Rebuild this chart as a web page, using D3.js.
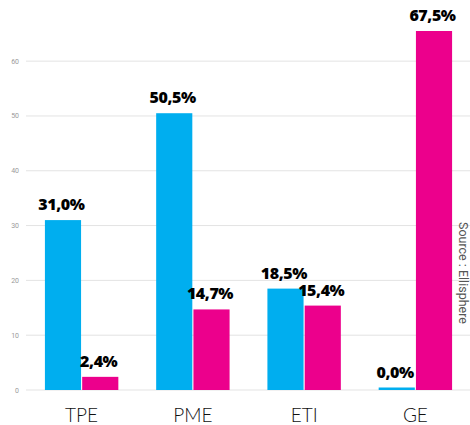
<!DOCTYPE html>
<html><head><meta charset="utf-8">
<script src="https://cdn.jsdelivr.net/npm/d3@7"></script>
<style>body{margin:0;background:#fff}</style>
</head><body><svg id="c" width="470" height="425"></svg>
<script>
const categories = ["TPE", "PME", "ETI", "GE"];
const seriesNames = ["s1", "s2"];
const seriesA = [31.0, 50.5, 18.5, 0.0];
const seriesB = [2.4, 14.7, 15.4, 67.5];
const labelsA = ["31,0%", "50,5%", "18,5%", "0,0%"];
const labelsB = ["2,4%", "14,7%", "15,4%", "67,5%"];
const yTicks = [0, 10, 20, 30, 40, 50, 60];
const colors = ["#00AEEF", "#EC008C"];
const sourceText = "Source : Ellisphere";

const svg = d3.select("#c");
// plot area tops out at ~65.5, taller bars are clipped there
const y = d3.scaleLinear().domain([0, 65.5]).range([390, 31]).clamp(true);
const x0 = d3.scaleBand().domain(categories).range([26, 471]).paddingInner(0.34).paddingOuter(0.17);
const x1 = d3.scaleBand().domain(seriesNames).range([0, x0.bandwidth()]).paddingInner(0.03);

// grid
svg.append("g").selectAll("line").data(yTicks).join("line")
  .attr("x1", 26).attr("x2", 470)
  .attr("y1", d => y(d)).attr("y2", d => y(d))
  .attr("stroke", "#e3e3e3").attr("stroke-width", 1);
svg.append("g").selectAll("text").data(yTicks).join("text")
  .attr("x", 19).attr("y", d => y(d) + 2.5)
  .attr("text-anchor", "end").attr("font-family", "Roboto, sans-serif")
  .attr("font-size", 7).attr("fill", "#9a9a9a").text(d => d);

const data = categories.map((c, i) => ({c, vals: [
  {s: "s1", v: seriesA[i], l: labelsA[i], col: colors[0]},
  {s: "s2", v: seriesB[i], l: labelsB[i], col: colors[1]}]}));

const g = svg.append("g").selectAll("g").data(data).join("g")
  .attr("transform", d => `translate(${x0(d.c)},0)`);
g.selectAll("rect").data(d => d.vals).join("rect")
  .attr("x", d => x1(d.s)).attr("width", x1.bandwidth())
  .attr("y", d => Math.min(y(d.v), y(0) - 2.5))
  .attr("height", d => Math.max(y(0) - y(d.v), 2.5))
  .attr("fill", d => d.col);
g.selectAll("text").data(d => d.vals).join("text")
  .attr("x", d => x1(d.s) + x1.bandwidth() / 2 - 1.5)
  .attr("y", d => Math.min(y(d.v), y(0) - 2.5) - 10)
  .attr("text-anchor", "middle").attr("font-family", "'Open Sans', sans-serif")
  .attr("font-weight", 800).attr("font-size", 16).attr("letter-spacing", -0.4)
  .attr("fill", "#000")
  .text(d => d.l);

svg.append("g").selectAll("text").data(categories).join("text")
  .attr("x", d => x0(d) + x0.bandwidth() / 2).attr("y", 422)
  .attr("text-anchor", "middle").attr("font-family", "Lato, sans-serif")
  .attr("font-weight", 300).attr("font-size", 19).attr("fill", "#111").text(d => d);

svg.append("text").attr("transform", "translate(459,222) rotate(90)")
  .attr("font-family", "Roboto, sans-serif").attr("font-size", 12.5).attr("fill", "#555")
  .text(sourceText);
</script></body></html>
